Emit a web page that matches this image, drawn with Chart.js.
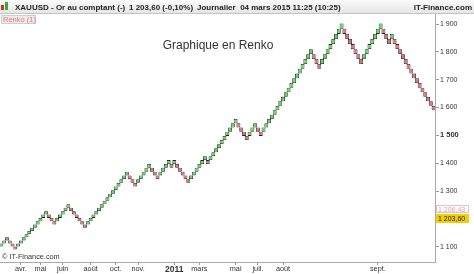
<!DOCTYPE html>
<html>
<head>
<meta charset="utf-8">
<script src="https://cdn.jsdelivr.net/npm/chart.js@4.4.1/dist/chart.umd.min.js"></script>
<style>
  html, body { margin: 0; padding: 0; background: #fff; }
</style>
</head>
<body>
<canvas id="chart" width="474" height="274"></canvas>
<script>
// Renko bricks: box size in % of price, low of the first brick,
// then brick runs (+ = green bricks up, - = red bricks down)
const boxPct = 1;
const firstLow = 1100.4;
const runs = [3, -3, 11, -3, 5, -6, 15, -3, 5, -3, 4, -1, 1, -5, 6, -1, 10, -4, 3, -2, 18, -3, 8, -7, 7, -3, 1, -15];

// month labels under the bricks where the month changes
const monthBricks = [7, 14, 22, 32, 41, 49, 62, 71, 84, 92, 101, 135];
const monthLabels = ['avr.', 'mai', 'juin', 'août', 'oct.', 'nov.', '2011', 'mars', 'mai', 'juil.', 'août', 'sept.'];

const yTicks = [1100, 1200, 1300, 1400, 1500, 1600, 1700, 1800, 1900];
const prevClose = '1 206,43';
const lastClose = '1 203,60';

const upFill = '#5ddc5d', downFill = '#e8707c';

const bricks = [];
const fills = [];
let level = 0;
runs.forEach(r => {
  const dir = Math.sign(r);
  for (let j = 0; j < Math.abs(r); j++) {
    if (bricks.length) level += dir;
    const lo = firstLow * Math.pow(1 + boxPct / 100, level);
    bricks.push([lo, lo * (1 + boxPct / 100)]);
    fills.push(dir > 0 ? upFill : downFill);
  }
});
const labels = bricks.map((b, i) => {
  const m = monthBricks.indexOf(i);
  return m >= 0 ? monthLabels[m] : '';
});

const fmt = v => String(v).replace(/\B(?=(\d{3})+(?!\d))/g, ' ');

const decor = {
  id: 'decor',
  afterDraw(chart) {
    const ctx = chart.ctx;
    ctx.save();
    // header bar
    const g = ctx.createLinearGradient(0, 0, 0, 13);
    g.addColorStop(0, '#fafafa');
    g.addColorStop(1, '#e6e6e6');
    ctx.fillStyle = g;
    ctx.fillRect(0, 0, 474, 13);
    ctx.fillStyle = '#c4c4c4';
    ctx.fillRect(0, 13, 474, 1);
    // little candle icon
    ctx.fillStyle = '#d03030';
    ctx.fillRect(1, 5, 3, 5);
    ctx.fillStyle = '#30b030';
    ctx.fillRect(5, 2, 3, 8);
    ctx.fillStyle = '#222';
    ctx.font = 'bold 8px "Liberation Sans", Arial, sans-serif';
    ctx.textBaseline = 'alphabetic';
    ctx.textAlign = 'left';
    ctx.fillText('XAUUSD - Or au comptant (-)', 15, 10);
    ctx.fillText('1 203,60 (-0,10%)', 129, 10);
    ctx.fillText('Journalier  04 mars 2015 11:25 (10:25)', 197, 10);
    ctx.textAlign = 'right';
    ctx.fillText('IT-Finance.com', 472, 10);

    // indicator tag
    ctx.fillStyle = '#ececec';
    ctx.fillRect(1, 15, 35, 9);
    ctx.strokeStyle = '#cfcfcf';
    ctx.strokeRect(1.5, 15.5, 34, 8);
    ctx.fillStyle = '#e07a80';
    ctx.font = '7.5px "Liberation Sans", Arial, sans-serif';
    ctx.textAlign = 'left';
    ctx.fillText('Renko (1)', 3, 22);

    // title
    ctx.fillStyle = '#333';
    ctx.font = '12px "Liberation Sans", Arial, sans-serif';
    ctx.textAlign = 'center';
    ctx.fillText('Graphique en Renko', 218, 49);

    // copyright
    ctx.font = '7.3px "Liberation Sans", Arial, sans-serif';
    ctx.textAlign = 'left';
    ctx.fillStyle = '#333';
    ctx.fillText('© IT-Finance.com', 2, 259);

    // price tags on the right axis
    ctx.fillStyle = '#fff';
    ctx.fillRect(436, 205, 33, 8);
    ctx.strokeStyle = '#e6c0c4';
    ctx.strokeRect(436.5, 205.5, 32, 7);
    ctx.fillStyle = '#e89aa0';
    ctx.font = '7px "Liberation Sans", Arial, sans-serif';
    ctx.fillText(prevClose, 438, 211.5);
    ctx.fillStyle = '#f2d000';
    ctx.fillRect(436, 214, 33, 9);
    ctx.fillStyle = '#222';
    ctx.fillText(lastClose, 438, 221);
    ctx.restore();
  }
};

new Chart(document.getElementById('chart'), {
  type: 'bar',
  data: {
    labels: labels,
    datasets: [{
      data: bricks,
      backgroundColor: fills,
      borderColor: '#262626',
      borderWidth: 0.8,
      borderSkipped: false,
      barPercentage: 1.4,
      categoryPercentage: 1
    }]
  },
  options: {
    responsive: false,
    animation: false,
    layout: { padding: { top: 14, left: 0, right: 0, bottom: 0 } },
    plugins: { legend: { display: false }, tooltip: { enabled: false } },
    scales: {
      x: {
        offset: true,
        grid: {
          offset: false,
          drawOnChartArea: false,
          tickLength: 3,
          color: c => monthBricks.includes(c.index) ? '#999' : 'rgba(0,0,0,0)'
        },
        border: { color: '#aaa' },
        ticks: {
          autoSkip: false,
          maxRotation: 0,
          minRotation: 0,
          padding: 0,
          color: '#333',
          font: c => c.tick && c.tick.label === '2011'
            ? { family: '"Liberation Sans", Arial, sans-serif', size: 8.5, weight: 'bold' }
            : { family: '"Liberation Sans", Arial, sans-serif', size: 7.3 }
        },
        afterFit: s => { s.height = 12; }
      },
      y: {
        position: 'right',
        min: 1045,
        max: 1936,
        afterBuildTicks: s => { s.ticks = yTicks.map(v => ({ value: v })); },
        grid: { drawOnChartArea: false, tickLength: 4, color: '#999' },
        border: { color: '#aaa' },
        ticks: {
          padding: 1,
          color: '#333',
          callback: v => fmt(v),
          font: c => c.tick && c.tick.value === 1500
            ? { family: '"Liberation Sans", Arial, sans-serif', size: 7.5, weight: 'bold' }
            : { family: '"Liberation Sans", Arial, sans-serif', size: 7 }
        },
        afterFit: s => { s.width = 39; }
      }
    }
  },
  plugins: [decor]
});
</script>
</body>
</html>
